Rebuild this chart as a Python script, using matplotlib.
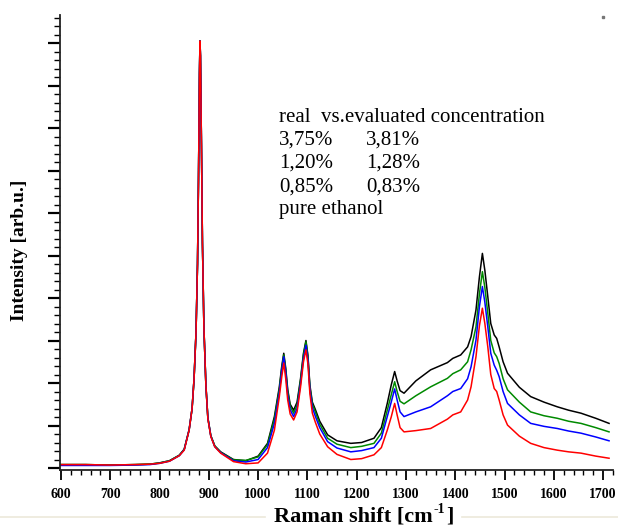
import matplotlib
matplotlib.use("Agg")
import matplotlib.pyplot as plt
from matplotlib.ticker import MultipleLocator
from matplotlib.lines import Line2D

# Raman shift grid (cm^-1)
shift = [600, 650, 700, 750, 780, 800, 820, 840, 850, 860, 866, 870, 874, 877, 879, 881, 882, 883,
         885, 887, 890, 894, 898, 904, 912, 924, 950, 975, 1000, 1019, 1033, 1043, 1048, 1052, 1056,
         1060, 1065, 1072, 1079, 1086, 1092, 1097, 1101, 1105, 1110, 1116, 1125, 1141, 1160, 1188,
         1210, 1235, 1250, 1262, 1270, 1277, 1282, 1288, 1296, 1320, 1350, 1384, 1395, 1411, 1425,
         1432, 1442, 1449, 1455, 1460, 1466, 1472, 1479, 1484, 1489, 1497, 1506, 1530, 1553, 1580,
         1607, 1630, 1655, 1685, 1712]

# 3,75 % sample (black)
black = [0.08, 0.08, 0.07, 0.08, 0.09, 0.12, 0.17, 0.30, 0.44, 0.90, 1.40, 2.10, 3.20, 4.80, 6.80, 9.30, 10.05, 9.70,
         7.60, 5.30, 3.30, 1.95, 1.18, 0.76, 0.52, 0.38, 0.20, 0.17, 0.28, 0.58, 1.21, 1.91, 2.40, 2.70, 2.35,
         1.85, 1.50, 1.36, 1.55, 2.10, 2.70, 3.00, 2.65, 1.95, 1.55, 1.38, 1.10, 0.78, 0.64, 0.58,
         0.60, 0.70, 0.95, 1.52, 1.95, 2.27, 2.05, 1.82, 1.76, 2.05, 2.31, 2.48, 2.58, 2.66, 2.85,
         3.09, 3.72, 4.50, 5.05, 4.65, 4.03, 3.40, 3.13, 3.05, 2.85, 2.50, 2.23, 1.90, 1.68, 1.55,
         1.44, 1.36, 1.29, 1.17, 1.05]

# 1,20 % sample (green)
green = [0.08, 0.08, 0.07, 0.08, 0.09, 0.12, 0.17, 0.30, 0.44, 0.90, 1.40, 2.10, 3.20, 4.80, 6.80, 9.30, 10.05, 9.70,
         7.60, 5.30, 3.30, 1.95, 1.18, 0.76, 0.52, 0.37, 0.19, 0.18, 0.26, 0.55, 1.15, 1.85, 2.35, 2.66, 2.30,
         1.80, 1.45, 1.29, 1.48, 2.05, 2.66, 2.97, 2.62, 1.90, 1.50, 1.32, 1.03, 0.70, 0.56, 0.48,
         0.51, 0.58, 0.82, 1.36, 1.72, 2.03, 1.80, 1.57, 1.51, 1.70, 1.91, 2.11, 2.22, 2.31, 2.50,
         2.78, 3.32, 4.10, 4.62, 4.25, 3.64, 3.00, 2.71, 2.62, 2.46, 2.10, 1.84, 1.55, 1.32, 1.23,
         1.17, 1.10, 1.05, 0.95, 0.85]

# 0,85 % sample (blue)
blue = [0.06, 0.06, 0.06, 0.07, 0.08, 0.11, 0.16, 0.29, 0.43, 0.90, 1.40, 2.10, 3.20, 4.80, 6.80, 9.30, 10.05, 9.70,
        7.60, 5.30, 3.30, 1.95, 1.18, 0.75, 0.50, 0.36, 0.17, 0.14, 0.20, 0.48, 1.05, 1.78, 2.30, 2.62, 2.25,
        1.72, 1.37, 1.21, 1.40, 1.98, 2.58, 2.89, 2.55, 1.85, 1.42, 1.22, 0.95, 0.62, 0.47, 0.38,
        0.41, 0.48, 0.70, 1.21, 1.55, 1.86, 1.60, 1.32, 1.21, 1.32, 1.44, 1.70, 1.80, 1.87, 2.10,
        2.38, 3.01, 3.80, 4.27, 3.90, 3.32, 2.70, 2.42, 2.30, 2.15, 1.80, 1.52, 1.25, 1.05, 0.98,
        0.93, 0.87, 0.82, 0.73, 0.64]

# pure ethanol (red)
red = [0.08, 0.08, 0.07, 0.08, 0.09, 0.11, 0.16, 0.29, 0.42, 0.89, 1.40, 2.10, 3.20, 4.80, 6.80, 9.30, 10.05, 9.70,
       7.60, 5.30, 3.30, 1.95, 1.16, 0.74, 0.50, 0.35, 0.15, 0.10, 0.12, 0.35, 0.89, 1.68, 2.15, 2.47, 2.10,
       1.60, 1.27, 1.13, 1.32, 1.90, 2.50, 2.78, 2.45, 1.75, 1.29, 1.08, 0.80, 0.50, 0.32, 0.20,
       0.22, 0.31, 0.48, 0.89, 1.20, 1.52, 1.25, 0.95, 0.85, 0.88, 0.93, 1.15, 1.25, 1.32, 1.60,
       1.91, 2.62, 3.35, 3.76, 3.40, 2.85, 2.20, 1.87, 1.80, 1.60, 1.25, 1.01, 0.75, 0.58, 0.48,
       0.42, 0.38, 0.35, 0.28, 0.23]

series = [black, green, blue, red]
colors = ["#000000", "#008a00", "#0000ff", "#ff0000"]

x_ticks = [600, 700, 800, 900, 1000, 1100, 1200, 1300, 1400, 1500, 1600, 1700]

legend_rows = [("real  vs.evaluated concentration", ""),
               ("3,75%", "3,81%"),
               ("1,20%", "1,28%"),
               ("0,85%", "0,83%"),
               ("pure ethanol", "")]

serif = ["Liberation Serif", "DejaVu Serif"]

W, H = 618, 527
fig = plt.figure(figsize=(W / 100, H / 100), dpi=100)
ax = fig.add_axes([60 / W, 57 / H, 553 / W, 455 / H])

for ys, c in zip(series, colors):
    ax.plot(shift, ys, color=c, lw=1.1)

ax.set_xlim(598, 1720)
ax.set_ylim(-0.047, 10.66)

ax.spines["top"].set_visible(False)
ax.spines["right"].set_visible(False)
for s in ("left", "bottom"):
    ax.spines[s].set_linewidth(1.3)
    ax.spines[s].set_color("#222222")

ax.set_xticks(x_ticks)
ax.xaxis.set_minor_locator(MultipleLocator(20))
ax.yaxis.set_major_locator(MultipleLocator(1))
ax.yaxis.set_minor_locator(MultipleLocator(0.2))
ax.tick_params(axis="x", which="major", direction="out", length=7, width=1.3, pad=6,
               labelsize=10)
ax.tick_params(axis="x", which="minor", direction="out", length=3.5, width=1.0)
ax.tick_params(axis="y", which="major", direction="out", length=9, width=1.6, labelleft=False)
ax.tick_params(axis="y", which="minor", direction="out", length=4.5, width=1.0)
for lab in ax.get_xticklabels():
    lab.set_fontfamily(serif)
    lab.set_fontweight("bold")

fig.text(20 / W, 1 - 250 / H, "Intensity [arb.u.]", rotation=90, ha="center", va="center",
         fontsize=14, fontweight="bold", family=serif)

# x label with a small superscript, composed from three text pieces
r = fig.canvas.get_renderer()
main_kw = dict(fontsize=16, fontweight="bold", family=serif, va="baseline", ha="left")
sup_kw = dict(fontsize=10, fontweight="bold", family=serif, va="baseline", ha="left")
p1 = fig.text(0, 0, "Raman shift [cm", **main_kw)
p2 = fig.text(0, 0, "-1", **sup_kw)
p3 = fig.text(0, 0, "]", **main_kw)
w1 = p1.get_window_extent(r).width
w2 = p2.get_window_extent(r).width
w3 = p3.get_window_extent(r).width
total = w1 + w2 + w3 + 2
x_start = 364 - total / 2
base = H - 521  # baseline, pixels from bottom
p1.set_position((x_start / W, base / H))
p2.set_position(((x_start + w1 + 1) / W, (base + 8) / H))
p3.set_position(((x_start + w1 + w2 + 2) / W, base / H))

# legend-like text block
y0 = 117
for i, (a, b) in enumerate(legend_rows):
    yy = 1 - (y0 + i * 23.2) / H
    fig.text(279 / W, yy, a, ha="left", va="center", fontsize=15, family=serif)
    if b:
        fig.text(366 / W, yy, b, ha="left", va="center", fontsize=15, family=serif)

# faint slide decoration lines and dot
fig.add_artist(Line2D([0, 265 / W], [1 - 517 / H] * 2, color="#ece9da", lw=1.2,
                      transform=fig.transFigure))
fig.add_artist(Line2D([462 / W, 1], [1 - 517 / H] * 2, color="#ece9da", lw=1.2,
                      transform=fig.transFigure))
fig.add_artist(Line2D([603 / W], [1 - 17 / H], marker="s", ms=2, color="#777777", lw=0,
                      transform=fig.transFigure))

fig.savefig("out.png", dpi=100)
